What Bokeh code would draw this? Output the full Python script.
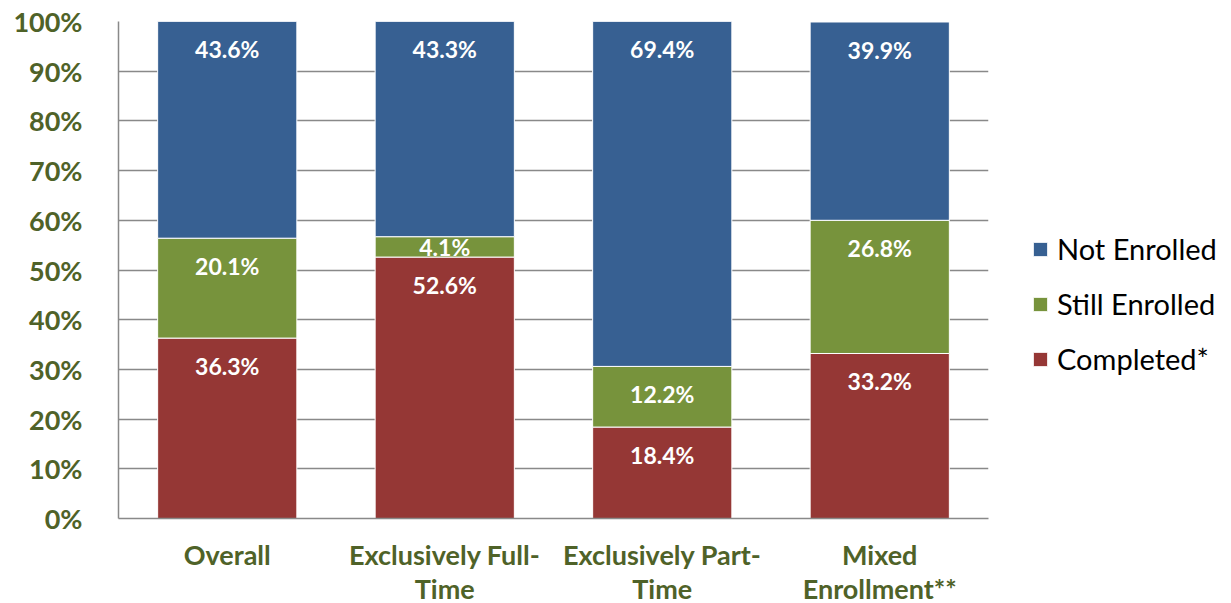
from bokeh.plotting import figure
from bokeh.models import ColumnDataSource, FactorRange, Legend, LegendItem, FixedTicker
from bokeh.embed import file_html
from bokeh.resources import INLINE
from bokeh.core.properties import value

categories = ["Overall", "Exclusively Full-\nTime", "Exclusively Part-\nTime", "Mixed\nEnrollment**"]
completed = [36.3, 52.6, 18.4, 33.2]
still_enrolled = [20.1, 4.1, 12.2, 26.8]
not_enrolled = [43.6, 43.3, 69.4, 39.9]
series_names = ["Completed*", "Still Enrolled", "Not Enrolled"]
colors = ["#953735", "#77933C", "#376092"]
y_ticks = list(range(0, 101, 10))

FONT = "Lato"
AXIS_COLOR = "#4F6228"
LINE_GRAY = "#898989"

src = ColumnDataSource(dict(cat=categories, completed=completed,
                            still=still_enrolled, not_enrolled=not_enrolled))

p = figure(x_range=FactorRange(*categories), y_range=(0, 100),
           frame_width=870, frame_height=497,
           min_border_left=118, min_border_right=0,
           min_border_top=21, min_border_bottom=85,
           output_backend="svg", toolbar_location=None)

rs = p.vbar_stack(["completed", "still", "not_enrolled"], x="cat", width=0.64,
                  fill_color=colors, line_color="white", line_width=1, source=src)

# data labels (placed near the inside end of each segment)
lx, ly, lt = [], [], []
for i, c in enumerate(categories):
    base = 0.0
    for vals in (completed, still_enrolled, not_enrolled):
        v = vals[i]
        top = base + v
        lx.append(c)
        ly.append(top - min(5.6, v / 2))
        lt.append(f"{v:.1f}%")
        base = top
p.text(x=lx, y=ly, text=lt, text_color="white", text_font=value(FONT),
       text_font_style="bold", text_font_size="23px",
       text_align="center", text_baseline="middle")

# axes
p.yaxis.ticker = FixedTicker(ticks=y_ticks)
p.yaxis.major_label_overrides = {t: f"{t}%" for t in y_ticks}
for ax in (p.yaxis[0], p.xaxis[0]):
    ax.major_label_text_font = FONT
    ax.major_label_text_font_style = "bold"
    ax.major_label_text_font_size = "27px"
    ax.major_label_text_color = AXIS_COLOR
    ax.major_tick_line_color = None
    ax.minor_tick_line_color = None
    ax.axis_line_color = LINE_GRAY
    ax.axis_line_width = 1.5
p.yaxis.major_label_standoff = 30
p.xaxis.major_label_standoff = 13
p.xaxis.major_label_text_line_height = 1.05

p.xgrid.visible = False
p.ygrid.grid_line_color = LINE_GRAY
p.ygrid.grid_line_width = 1.5
p.outline_line_color = None

legend = Legend(items=[LegendItem(label=series_names[2], renderers=[rs[2]]),
                       LegendItem(label=series_names[1], renderers=[rs[1]]),
                       LegendItem(label=series_names[0], renderers=[rs[0]])],
                location=(43, 142))
legend.label_text_font = FONT
legend.label_text_font_size = "29px"
legend.label_text_color = "black"
legend.glyph_width = 18
legend.glyph_height = 18
legend.label_height = 30
legend.spacing = 20
legend.padding = 0
legend.margin = 0
legend.label_standoff = 8
legend.border_line_color = None
legend.background_fill_color = None
p.add_layout(legend, "right")

open("out.html", "w").write(file_html(p, INLINE))
